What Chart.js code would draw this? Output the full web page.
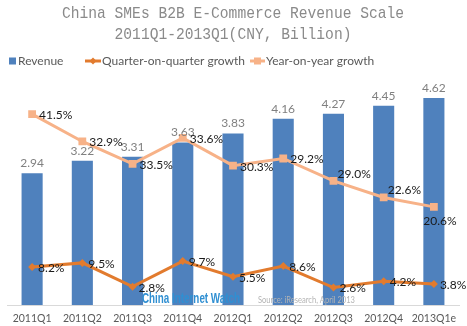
<!DOCTYPE html>
<html lang="en">
<head>
    <meta charset="UTF-8">
    <title>China SMEs B2B E-Commerce Revenue Scale</title>
    <style>
        body {
            margin: 0;
            background: #ffffff;
        }
        #wrap {
            width: 467px;
            height: 326px;
            position: relative;
        }
    </style>
</head>
<body>
    <div id="wrap">
        <canvas id="chart"></canvas>
    </div>

    <script src="https://cdn.jsdelivr.net/npm/chart.js"></script>
    <script>
        // data
        const quarters = ['2011Q1', '2011Q2', '2011Q3', '2011Q4', '2012Q1', '2012Q2', '2012Q3', '2012Q4', '2013Q1e'];
        const revenue = [2.94, 3.22, 3.31, 3.63, 3.83, 4.16, 4.27, 4.45, 4.62];
        // where the points sit in the picture (%)
        const qoqPoints = [8.5, 9.4, 4.1, 9.8, 6.3, 8.7, 3.9, 5.3, 4.7];
        const yoyPoints = [42.6, 36.5, 31.5, 37.3, 31.1, 32.7, 27.7, 24.0, 21.9];
        // what the labels say
        const qoqLabels = ['8.2%', '9.5%', '2.8%', '9.7%', '5.5%', '8.6%', '2.6%', '4.2%', '3.8%'];
        const yoyLabels = ['41.5%', '32.9%', '33.5%', '33.6%', '30.3%', '29.2%', '29.0%', '22.6%', '20.6%'];

        const titleLines = ['China SMEs B2B E-Commerce Revenue Scale', '2011Q1-2013Q1(CNY, Billion)'];
        const legendNames = ['Revenue', 'Quarter-on-quarter growth', 'Year-on-year growth'];

        // label placement per point
        const yoyPlace = ['r', 'r', 'r', 'r', 'r', 'r', 'ur', 'ur', 'b'];

        const BLUE = '#4f81bd';
        const ORANGE = '#e27b2e';
        const PEACH = '#f7b288';
        const LABEL_FONT = '12px Lato, "Liberation Sans", sans-serif';

        // text squeezed into a given width
        function fitText(ctx, text, x, y, width) {
            const w = ctx.measureText(text).width;
            ctx.save();
            ctx.translate(x, y);
            ctx.scale(Math.min(1, width / w), 1);
            ctx.fillText(text, 0, 0);
            ctx.restore();
        }

        // titel, legende, quelle
        const decoPlugin = {
            id: 'deco',
            afterDraw(chart) {
                const ctx = chart.ctx;
                ctx.save();

                // title: narrow monospace look
                ctx.fillStyle = '#8a8a8a';
                ctx.font = '17px "Liberation Mono", monospace';
                ctx.textBaseline = 'middle';
                ctx.textAlign = 'center';
                const sx = 0.86;
                [[titleLines[0], 13], [titleLines[1], 34]].forEach(([t, y]) => {
                    ctx.save();
                    ctx.translate(233, y);
                    ctx.scale(sx, 1);
                    ctx.fillText(t, 0, 0);
                    ctx.restore();
                });

                // legend
                const ly = 61;
                ctx.font = '12px Lato, "Liberation Sans", sans-serif';
                ctx.textAlign = 'left';

                ctx.fillStyle = BLUE;
                ctx.fillRect(9, ly - 3.5, 7, 7);
                ctx.fillStyle = '#595959';
                ctx.fillText(legendNames[0], 18, ly);

                ctx.strokeStyle = ORANGE;
                ctx.lineWidth = 3;
                ctx.beginPath();
                ctx.moveTo(85, ly);
                ctx.lineTo(101, ly);
                ctx.stroke();
                ctx.fillStyle = ORANGE;
                ctx.beginPath();
                ctx.moveTo(93, ly - 3.5);
                ctx.lineTo(96.5, ly);
                ctx.lineTo(93, ly + 3.5);
                ctx.lineTo(89.5, ly);
                ctx.closePath();
                ctx.fill();
                ctx.fillStyle = '#595959';
                ctx.fillText(legendNames[1], 102, ly);

                ctx.strokeStyle = PEACH;
                ctx.beginPath();
                ctx.moveTo(250, ly);
                ctx.lineTo(265, ly);
                ctx.stroke();
                ctx.fillStyle = PEACH;
                ctx.fillRect(254, ly - 3.5, 7, 7);
                ctx.fillStyle = '#595959';
                ctx.fillText(legendNames[2], 266, ly);

                ctx.restore();
            },
            afterDatasetsDraw(chart) {
                const ctx = chart.ctx;
                ctx.save();
                ctx.textBaseline = 'middle';

                // watermark and source
                ctx.textAlign = 'left';
                ctx.font = 'bold 14px "Liberation Sans", sans-serif';
                ctx.fillStyle = '#2f8fd2';
                fitText(ctx, 'China Internet Watch', 142, 299, 98);
                ctx.font = '9px Lato, "Liberation Sans", sans-serif';
                ctx.fillStyle = '#b4b4b4';
                fitText(ctx, 'Source: iResearch, April 2013', 258, 300, 97);

                // bar values
                ctx.font = LABEL_FONT;
                ctx.textAlign = 'center';
                ctx.fillStyle = '#808080';
                chart.getDatasetMeta(0).data.forEach((el, i) => {
                    ctx.fillText(revenue[i].toFixed(2), el.x, el.y - 10);
                });

                // growth labels
                ctx.fillStyle = '#1a1a1a';
                chart.getDatasetMeta(1).data.forEach((el, i) => {
                    ctx.textAlign = 'left';
                    ctx.fillText(qoqLabels[i], el.x + 6, el.y + 1);
                });
                chart.getDatasetMeta(2).data.forEach((el, i) => {
                    const p = yoyPlace[i];
                    if (p === 'b') {
                        ctx.textAlign = 'center';
                        ctx.fillText(yoyLabels[i], el.x + 6, el.y + 14);
                    } else if (p === 'ur') {
                        ctx.textAlign = 'left';
                        ctx.fillText(yoyLabels[i], el.x + 4, el.y - 7);
                    } else {
                        ctx.textAlign = 'left';
                        ctx.fillText(yoyLabels[i], el.x + 7, el.y + 1);
                    }
                });
                ctx.restore();
            }
        };

        const chart = new Chart(document.getElementById('chart'), {
            type: 'bar',
            data: {
                labels: quarters,
                datasets: [
                    {
                        label: legendNames[0],
                        data: revenue,
                        backgroundColor: BLUE,
                        barPercentage: 0.42,
                        categoryPercentage: 1,
                        yAxisID: 'y',
                        order: 3
                    },
                    {
                        type: 'line',
                        label: legendNames[1],
                        data: qoqPoints,
                        borderColor: ORANGE,
                        backgroundColor: ORANGE,
                        borderWidth: 3,
                        pointStyle: 'rectRot',
                        pointRadius: 4,
                        pointBorderWidth: 0,
                        yAxisID: 'y2',
                        order: 1
                    },
                    {
                        type: 'line',
                        label: legendNames[2],
                        data: yoyPoints,
                        borderColor: PEACH,
                        backgroundColor: PEACH,
                        borderWidth: 3,
                        pointStyle: 'rect',
                        pointRadius: 5.5,
                        pointBorderWidth: 0,
                        yAxisID: 'y2',
                        order: 2
                    }
                ]
            },
            options: {
                responsive: true,
                maintainAspectRatio: false,
                animation: false,
                layout: {
                    padding: { top: 81, left: 7, right: 8, bottom: 0 }
                },
                plugins: {
                    legend: { display: false },
                    title: { display: false },
                    tooltip: { enabled: false }
                },
                scales: {
                    x: {
                        grid: { display: false, drawTicks: false },
                        border: { color: '#d9d9d9', width: 1 },
                        afterFit(scale) {
                            scale.height = 21;
                        },
                        ticks: {
                            color: '#595959',
                            padding: 7,
                            maxRotation: 0,
                            minRotation: 0,
                            autoSkip: false,
                            font: { family: 'Lato, "Liberation Sans", sans-serif', size: 10.5 }
                        }
                    },
                    y: {
                        display: false,
                        min: 0,
                        max: 5
                    },
                    y2: {
                        display: false,
                        min: 0,
                        max: 50
                    }
                }
            },
            plugins: [decoPlugin]
        });
    </script>
</body>
</html>
